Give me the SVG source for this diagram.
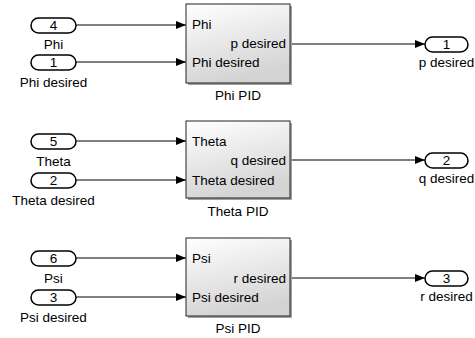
<svg xmlns="http://www.w3.org/2000/svg" width="475" height="338" viewBox="0 0 475 338">
<style>
text{font-family:"Liberation Sans",Arial,sans-serif;font-size:13.5px;fill:#000}
.c{text-anchor:middle}
.e{text-anchor:end}
.pill{fill:#fff;stroke:#000;stroke-width:1.5}
.blk{fill:url(#g);stroke:#222;stroke-width:1}
.sh{fill:#a0a0a0}
.ln{stroke:#000;stroke-width:1;fill:none}
</style>
<defs>
<linearGradient id="g" x1="0" y1="0" x2="0.3" y2="1">
<stop offset="0" stop-color="#ffffff"/>
<stop offset="1" stop-color="#d4d4d4"/>
</linearGradient>
<marker id="a" markerWidth="10" markerHeight="8" refX="10" refY="4" orient="auto" markerUnits="userSpaceOnUse">
<path d="M0,0L10,4L0,8z" fill="#000"/>
</marker>
</defs>
<g id="connectors">
<path class="ln" d="M76,25H186" marker-end="url(#a)"/>
<path class="ln" d="M76,62H186" marker-end="url(#a)"/>
<path class="ln" d="M290,44H425" marker-end="url(#a)"/>
<path class="ln" d="M76,141H186" marker-end="url(#a)"/>
<path class="ln" d="M76,180H186" marker-end="url(#a)"/>
<path class="ln" d="M290,160H425" marker-end="url(#a)"/>
<path class="ln" d="M76,258H186" marker-end="url(#a)"/>
<path class="ln" d="M76,297H186" marker-end="url(#a)"/>
<path class="ln" d="M290,278H425" marker-end="url(#a)"/>
</g>
<g id="in4"><rect class="pill" x="31" y="18" width="45" height="15" rx="7.5"/><text class="c" x="53.5" y="30">4</text><text class="c" x="53.5" y="49">Phi</text></g>
<g id="in1"><rect class="pill" x="31" y="55" width="45" height="15" rx="7.5"/><text class="c" x="53.5" y="67">1</text><text class="c" x="53.5" y="87">Phi desired</text></g>
<g id="phiPID"><rect class="sh" x="188" y="6" width="104" height="79"/><rect class="blk" x="186" y="4" width="104" height="79"/><text x="192" y="29">Phi</text><text class="e" x="286" y="48">p desired</text><text x="192" y="67">Phi desired</text><text class="c" x="238" y="100">Phi PID</text></g>
<g id="out1"><rect class="pill" x="425" y="37" width="43" height="15" rx="7.5"/><text class="c" x="446.5" y="49">1</text><text class="c" x="446.5" y="67">p desired</text></g>
<g id="in5"><rect class="pill" x="31" y="134" width="45" height="15" rx="7.5"/><text class="c" x="53.5" y="146">5</text><text class="c" x="53.5" y="166">Theta</text></g>
<g id="in2"><rect class="pill" x="31" y="173" width="45" height="15" rx="7.5"/><text class="c" x="53.5" y="185">2</text><text class="c" x="53.5" y="205">Theta desired</text></g>
<g id="thetaPID"><rect class="sh" x="188" y="123" width="104" height="77"/><rect class="blk" x="186" y="121" width="104" height="77"/><text x="192" y="146">Theta</text><text class="e" x="286" y="165">q desired</text><text x="192" y="185">Theta desired</text><text class="c" x="238" y="216">Theta PID</text></g>
<g id="out2"><rect class="pill" x="425" y="153" width="43" height="15" rx="7.5"/><text class="c" x="446.5" y="165">2</text><text class="c" x="446.5" y="183">q desired</text></g>
<g id="in6"><rect class="pill" x="31" y="251" width="45" height="15" rx="7.5"/><text class="c" x="53.5" y="263">6</text><text class="c" x="53.5" y="283">Psi</text></g>
<g id="in3"><rect class="pill" x="31" y="290" width="45" height="15" rx="7.5"/><text class="c" x="53.5" y="302">3</text><text class="c" x="53.5" y="322">Psi desired</text></g>
<g id="psiPID"><rect class="sh" x="188" y="240" width="104" height="78"/><rect class="blk" x="186" y="238" width="104" height="78"/><text x="192" y="263">Psi</text><text class="e" x="286" y="283">r desired</text><text x="192" y="302">Psi desired</text><text class="c" x="238" y="333">Psi PID</text></g>
<g id="out3"><rect class="pill" x="425" y="271" width="43" height="15" rx="7.5"/><text class="c" x="446.5" y="283">3</text><text class="c" x="446.5" y="301">r desired</text></g>
</svg>
